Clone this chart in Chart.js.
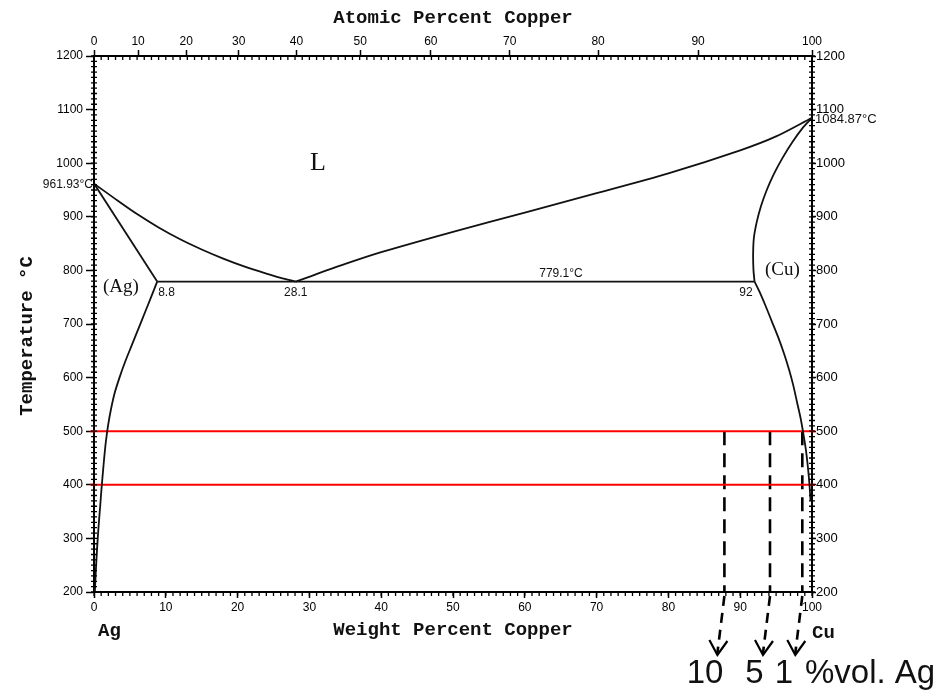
<!DOCTYPE html>
<html>
<head>
<meta charset="utf-8">
<script src="https://cdn.jsdelivr.net/npm/chart.js@4.4.1/dist/chart.umd.min.js"></script>
<style>
  html, body { margin: 0; padding: 0; background: #fff; }
  canvas { display: block; }
</style>
</head>
<body>
<canvas id="phase" width="944" height="694"></canvas>
<script>
// Ag–Cu binary phase diagram (weight percent copper vs temperature)

// Liquidus, Ag side: from the Ag melting point to the eutectic
const liqAgWt = [0, 3, 6, 9, 12, 15, 18, 21, 24, 26, 28.1];
const liqAgT  = [961.93, 933, 905, 880, 858, 839, 822, 807, 794, 786, 779.1];
// Solidus of (Ag)
const solAgWt = [0, 8.8];
const solAgT  = [961.93, 779.1];
// Solvus of (Ag)
const solvAgWt = [8.8, 7.95, 7.05, 6.15, 5.25, 4.35, 3.55, 2.85, 2.35, 1.95, 1.65, 1.42, 1.22, 1.03, 0.86, 0.68, 0.52, 0.34, 0.22, 0.12];
const solvAgT  = [779.1, 750, 720, 690, 660, 630, 600, 570, 540, 510, 480, 450, 420, 390, 360, 330, 300, 260, 230, 200];
// Liquidus, Cu side
const liqCuWt = [28.1, 35, 40, 50, 60, 70, 80, 90, 95, 100];
const liqCuT  = [779.1, 812, 834, 872, 908, 944, 981, 1024, 1050, 1084.87];
// Solidus of (Cu)
const solCuWt = [92, 91.85, 91.8, 91.9, 92.3, 92.9, 93.7, 94.7, 95.9, 97.3, 98.6, 100];
const solCuT  = [779.1, 800, 830, 860, 890, 920, 950, 980, 1010, 1040, 1064, 1084.87];
// Solvus of (Cu)
const solvCuWt = [92, 92.7, 93.5, 94.4, 95.3, 96.1, 96.8, 97.4, 97.9, 98.4, 98.8, 99.15, 99.45, 99.65, 99.8];
const solvCuT  = [779.1, 760, 735, 705, 675, 645, 615, 585, 555, 525, 495, 465, 430, 400, 370];
// Eutectic isotherm
const eutecticWt = [8.8, 28.1, 92];
const eutecticT = 779.1;
// Highlighted isotherms and alloy compositions
const isothermT = [500, 400];
const isothermSpan = [-0.5, 100.4];
const volPctAg = [10, 5, 1];
const volWtCu = [87.8, 94.15, 98.65];
// Axis ticks
const atomicTicks = [0, 10, 20, 30, 40, 50, 60, 70, 80, 90, 100];
const MW_CU = 63.546, MW_AG = 107.868;

const pts = (xs, ys) => xs.map((x, i) => ({ x, y: Array.isArray(ys) ? ys[i] : ys }));
// atomic % Cu -> weight % Cu (position on the shared x scale)
const atToWt = a => 100 * a * MW_CU / (a * MW_CU + (100 - a) * MW_AG);

const curve = (data, tension = 0.3) => ({
  data, showLine: true, pointRadius: 0, borderColor: '#111', borderWidth: 1.8,
  tension, fill: false
});

const datasets = [
  curve(pts(liqAgWt, liqAgT)),
  curve(pts(solAgWt, solAgT), 0),
  curve(pts(solvAgWt, solvAgT)),
  curve(pts(liqCuWt, liqCuT)),
  curve(pts(solCuWt, solCuT)),
  curve(pts(solvCuWt, solvCuT)),
  curve(pts([eutecticWt[0], eutecticWt[2]], eutecticT), 0),
  ...isothermT.map(t => ({
    data: pts(isothermSpan, t), showLine: true, pointRadius: 0,
    borderColor: '#ff0000', borderWidth: 2, clip: false
  })),
  ...volWtCu.map(w => ({
    data: pts([w, w], [isothermT[0], 200]), showLine: true, pointRadius: 0,
    borderColor: '#000', borderWidth: 2.6, borderDash: [14, 8]
  }))
];

const tickFont = { family: '"Liberation Sans", Arial, sans-serif', size: 12 };
const titleFont = { family: '"Liberation Mono", "Courier New", monospace', size: 19, weight: 'bold' };
const plain = v => String(v);
const axisBase = {
  type: 'linear',
  grid: { drawOnChartArea: false, drawTicks: true, color: '#000', tickColor: '#000', tickWidth: 1.5 },
  border: { display: true, color: '#000', width: 2 },
};

const annotations = {
  id: 'annotations',
  afterDraw(chart) {
    const { ctx, chartArea: a, scales: { x, y } } = chart;
    ctx.save();
    // minor tick marks
    ctx.strokeStyle = '#000';
    ctx.lineWidth = 1.3;
    ctx.beginPath();
    for (let w = 0; w <= 100; w++) {
      const px = x.getPixelForValue(w);
      ctx.moveTo(px, a.bottom); ctx.lineTo(px, a.bottom + 4);
      ctx.moveTo(px, a.top); ctx.lineTo(px, a.top + 4);
    }
    for (let t = 200; t <= 1200; t += 10) {
      const py = y.getPixelForValue(t);
      ctx.moveTo(a.left - 3, py); ctx.lineTo(a.left + 3, py);
      ctx.moveTo(a.right - 3, py); ctx.lineTo(a.right + 3, py);
    }
    ctx.stroke();

    // arrows from each composition line down to its label
    volWtCu.forEach(w => {
      const px = x.getPixelForValue(w);
      const ax = px - 7, ay = a.bottom + 63;
      ctx.lineWidth = 2.6;
      ctx.setLineDash([10, 7]);
      ctx.beginPath();
      ctx.moveTo(px, a.bottom + 4);
      ctx.lineTo(ax, ay - 2);
      ctx.stroke();
      ctx.setLineDash([]);
      ctx.lineWidth = 2.2;
      ctx.beginPath();
      ctx.moveTo(ax - 8, ay - 15);
      ctx.lineTo(ax, ay);
      ctx.lineTo(ax + 10, ay - 14);
      ctx.stroke();
    });

    ctx.fillStyle = '#111';
    const text = (s, px, py, font, align = 'left') => {
      ctx.font = font; ctx.textAlign = align; ctx.textBaseline = 'middle';
      ctx.fillText(s, px, py);
    };
    const small = '12px "Liberation Sans", Arial, sans-serif';
    const serif = '19px "Liberation Serif", "Times New Roman", serif';
    const mono = 'bold 19px "Liberation Mono", "Courier New", monospace';

    text('L', 318, 163, '26px "Liberation Serif", "Times New Roman", serif', 'center');
    text('(Ag)', 103, 287, serif);
    text('(Cu)', 765, 270, serif);
    text('8.8', x.getPixelForValue(eutecticWt[0]) + 1, y.getPixelForValue(eutecticT) + 11, small);
    text(String(eutecticWt[1]), x.getPixelForValue(eutecticWt[1]), y.getPixelForValue(eutecticT) + 11, small, 'center');
    text(String(eutecticWt[2]), x.getPixelForValue(eutecticWt[2]) - 2, y.getPixelForValue(eutecticT) + 11, small, 'right');
    text(eutecticT + '°C', 561, y.getPixelForValue(eutecticT) - 8, small, 'center');
    text(liqAgT[0] + '°C', a.left - 1, y.getPixelForValue(liqAgT[0]) + 1, small, 'right');
    text(liqCuT[liqCuT.length - 1] + '°C', a.right + 3, y.getPixelForValue(liqCuT[liqCuT.length - 1]) + 2, '13px "Liberation Sans", Arial, sans-serif');
    text('Ag', 98, 631, mono);
    text('Cu', 812, 633, mono);

    // rotated temperature axis title
    ctx.save();
    ctx.translate(27, 336);
    ctx.rotate(-Math.PI / 2);
    text('Temperature °C', 0, 0, mono, 'center');
    ctx.restore();

    // volume-percent labels under the arrows, then the unit
    const big = '33px "Liberation Sans", Arial, sans-serif';
    const labelCenters = [705, 754.5, 784];
    volPctAg.forEach((v, i) => text(String(v), labelCenters[i], 674, big, 'center'));
    text('%vol. Ag', 805, 674, big);
    ctx.restore();
  }
};

new Chart(document.getElementById('phase'), {
  type: 'scatter',
  data: { datasets },
  options: {
    responsive: false,
    animation: false,
    events: [],
    layout: { padding: 0 },
    plugins: { legend: { display: false }, tooltip: { enabled: false } },
    scales: {
      x: {
        ...axisBase, position: 'bottom', min: 0, max: 100,
        grid: { ...axisBase.grid, tickLength: 6 },
        ticks: { stepSize: 10, color: '#000', font: tickFont, padding: 2, maxRotation: 0, autoSkip: false, callback: plain },
        title: { display: true, text: 'Weight Percent Copper', color: '#111', font: titleFont, padding: { top: 0, bottom: 52 } },
        afterFit: s => { s.height = 102; }
      },
      xTop: {
        ...axisBase, position: 'top', min: 0, max: 100,
        grid: { ...axisBase.grid, tickLength: 6 },
        afterBuildTicks: s => { s.ticks = atomicTicks.map(a => ({ value: atToWt(a) })); },
        ticks: { color: '#000', font: tickFont, padding: 1, maxRotation: 0, autoSkip: false,
                 callback: (v, i) => String(atomicTicks[i]) },
        title: { display: true, text: 'Atomic Percent Copper', color: '#111', font: titleFont, padding: { top: 7, bottom: 0 } },
        afterFit: s => { s.height = 56; }
      },
      y: {
        ...axisBase, position: 'left', min: 200, max: 1200,
        grid: { ...axisBase.grid, tickLength: 8 },
        ticks: { stepSize: 100, color: '#000', font: tickFont, padding: 3, autoSkip: false, callback: plain },
        afterFit: s => { s.width = 94; }
      },
      yRight: {
        ...axisBase, position: 'right', min: 200, max: 1200,
        grid: { ...axisBase.grid, tickLength: 4 },
        ticks: { stepSize: 100, color: '#000', font: { ...tickFont, size: 13 }, padding: 0, autoSkip: false, callback: plain },
        afterFit: s => { s.width = 132; }
      }
    }
  },
  plugins: [annotations]
});
</script>
</body>
</html>
